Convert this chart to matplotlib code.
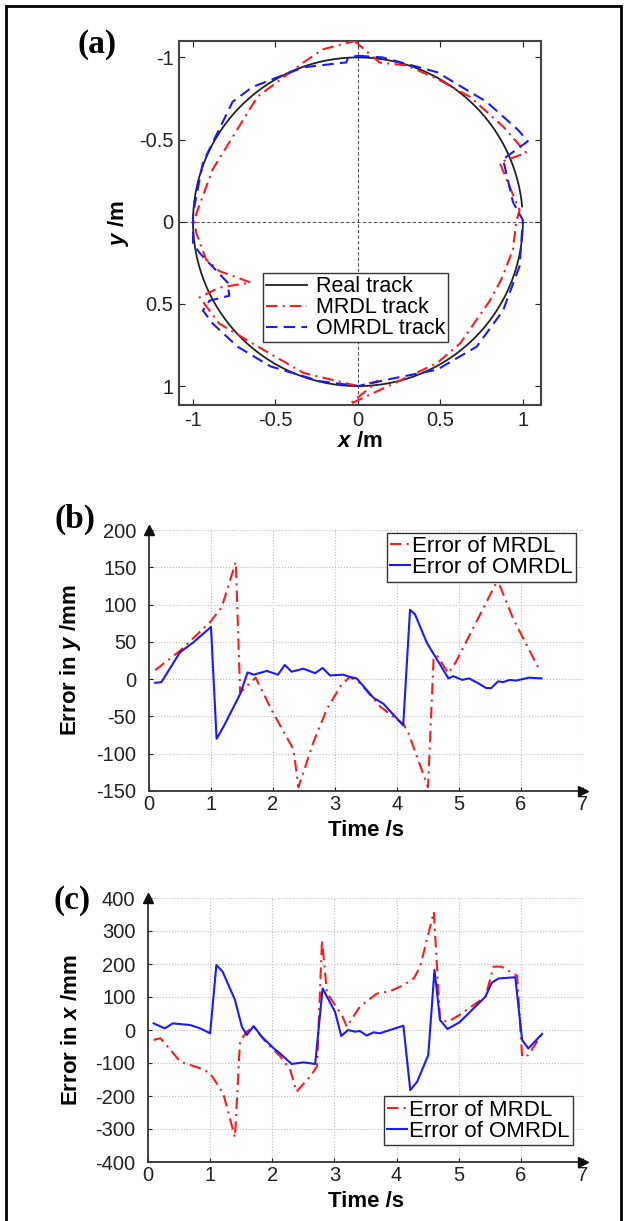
import matplotlib
matplotlib.use("Agg")
import matplotlib.pyplot as plt
from matplotlib.patches import Arc, Rectangle
from matplotlib.lines import Line2D

plt.rcParams['font.family'] = ['Liberation Sans', 'DejaVu Sans']
plt.rcParams['mathtext.fontset'] = 'custom'
plt.rcParams['mathtext.it'] = 'Liberation Sans:italic:bold'
plt.rcParams['mathtext.rm'] = 'Liberation Sans:bold'
plt.rcParams['axes.unicode_minus'] = False

# ---------------- data: panel (a) tracks ----------------
real_center = (0.0, 0.0)
real_radius = 1.0

mrdl_x = [-0.02, 0.06, 0.13, 0.30, 0.48, 0.68, 0.88, 1.02, 0.86, 0.90, 0.98, 0.96, 0.94, 0.87,
          0.80, 0.62, 0.48, -0.05, 0.12, 0.00, -0.33, -0.64, -0.84, -0.96, -0.84, -0.65, -0.84,
          -0.92, -0.98, -0.99, -0.98, -0.88, -0.61, -0.33, -0.21, -0.02]
mrdl_y = [-1.10, -1.03, -0.97, -0.95, -0.87, -0.76, -0.58, -0.42, -0.36, -0.26, -0.07, 0.00, 0.17, 0.35,
          0.48, 0.74, 0.86, 1.11, 0.97, 1.00, 0.92, 0.74, 0.62, 0.46, 0.40, 0.37, 0.30,
          0.23, 0.07, 0.00, -0.05, -0.32, -0.76, -0.97, -1.05, -1.10]

omrdl_x = [0.00, 0.15, 0.48, 0.78, 0.97, 1.03, 0.88, 0.91, 0.94, 1.00, 0.98, 0.88, 0.72, 0.48,
           0.18, 0.00, -0.23, -0.53, -0.73, -0.88, -0.94, -0.90, -0.78, -0.79, -0.96, -1.00,
           -1.00, -1.00, -0.94, -0.76, -0.64, -0.33, -0.07, -0.06, 0.00]
omrdl_y = [-1.01, -1.00, -0.91, -0.73, -0.56, -0.49, -0.38, -0.25, -0.12, -0.01, 0.27, 0.54, 0.76, 0.90,
           0.96, 1.00, 0.97, 0.88, 0.76, 0.62, 0.54, 0.48, 0.45, 0.37, 0.19, 0.13,
           0.00, -0.05, -0.36, -0.73, -0.82, -0.94, -0.97, -1.00, -1.01]

# ---------------- data: panel (b) error in y ----------------
tb_mrdl = [0.10, 0.50, 0.98, 1.17, 1.40, 1.47, 1.72, 2.00, 2.33, 2.41, 2.65, 2.87, 3.10, 3.24, 3.40,
           3.73, 4.10, 4.18, 4.50, 4.59, 4.64, 4.83, 4.95, 5.60, 5.66, 5.88, 6.30]
eb_mrdl = [12, 38, 76, 96, 157, -18, 2, -45, -94, -145, -85, -40, -8, 3, -5,
           -37, -60, -71, -145, 27, 32, 8, 23, 129, 125, 80, 12]

tb_omrdl = [0.10, 0.20, 0.50, 0.71, 1.00, 1.09, 1.20, 1.47, 1.59, 1.69, 1.90, 2.08, 2.19, 2.30, 2.49,
            2.68, 2.80, 2.92, 3.13, 3.24, 3.35, 3.62, 3.78, 4.10, 4.21, 4.29, 4.48, 4.64, 4.83,
            4.91, 5.05, 5.16, 5.30, 5.44, 5.52, 5.63, 5.71, 5.82, 5.92, 6.13, 6.33]
eb_omrdl = [-5, -4, 36, 49, 70, -80, -64, -20, 9, 6, 11, 6, 19, 10, 14,
            8, 15, 5, 6, 3, 1, -25, -33, -62, 93, 87, 49, 27, 1,
            4, -1, 1, -5, -12, -12, -3, -4, -1, -2, 2, 1]

# ---------------- data: panel (c) error in x ----------------
tc_mrdl = [0.09, 0.20, 0.36, 0.52, 0.84, 1.00, 1.21, 1.40, 1.48, 1.59, 1.70, 1.91, 2.13, 2.29, 2.39,
           2.61, 2.72, 2.80, 2.88, 3.12, 3.20, 3.41, 3.68, 3.90, 4.11, 4.28, 4.38, 4.60, 4.70,
           4.83, 5.01, 5.43, 5.56, 5.69, 5.94, 6.02, 6.12, 6.34]
ec_mrdl = [-30, -25, -60, -96, -116, -131, -192, -325, -35, -5, 10, -40, -80, -121, -187,
           -141, -110, 273, 112, 45, 10, 71, 110, 118, 136, 157, 192, 358, 30,
           25, 45, 101, 192, 192, 164, -81, -76, -12]

tc_omrdl = [0.09, 0.27, 0.40, 0.68, 0.84, 1.00, 1.10, 1.20, 1.40, 1.51, 1.59, 1.70, 1.83, 2.02, 2.13,
            2.31, 2.50, 2.69, 2.81, 3.01, 3.11, 3.22, 3.33, 3.41, 3.52, 3.63, 3.73, 4.11, 4.22,
            4.33, 4.51, 4.61, 4.70, 4.82, 5.01, 5.43, 5.53, 5.64, 5.91, 6.02, 6.12, 6.34]
ec_omrdl = [20, 5, 20, 15, 5, -10, 197, 177, 91, 10, -15, 12, -20, -55, -72,
            -103, -98, -103, 126, 55, -18, 0, -5, -3, -17, -7, -10, 13, -182,
            -157, -76, 182, 30, 3, 23, 101, 143, 156, 160, -30, -56, -12]

ticks_a = [-1, -0.5, 0, 0.5, 1]
ticklabels_a = ['-1', '-0.5', '0', '0.5', '1']
ticks_b = [-150, -100, -50, 0, 50, 100, 150, 200]
ticks_c = [-400, -300, -200, -100, 0, 100, 200, 300, 400]
ticks_t = [0, 1, 2, 3, 4, 5, 6, 7]

RED = '#ff1a1a'
BLUE = '#1a1aff'
LW = 1.5
DASHDOT = (0, (5.5, 2.5, 1, 2.5))
DASHED = (0, (5.5, 3))
TICK_FS = 14.5
LABEL_FS = 16

W, H = 627, 1221
fig = plt.figure(figsize=(W / 100, H / 100), dpi=100)

def frac(x0, y0, x1, y1):
    return [x0 / W, 1 - y1 / H, (x1 - x0) / W, (y1 - y0) / H]

# ---------------- panel (a) ----------------
axA = fig.add_axes(frac(179, 41, 541, 405))
arc = Arc(real_center, 2 * real_radius, 2 * real_radius, theta1=0, theta2=355,
          color='#222222', lw=1.3, zorder=3)
axA.add_patch(arc)
axA.plot(mrdl_x, mrdl_y, color=RED, lw=LW, ls=DASHDOT, zorder=4)
axA.plot(omrdl_x, omrdl_y, color=BLUE, lw=LW, ls=DASHED, zorder=5)
axA.axhline(0, color='#555555', lw=0.8, ls=(0, (3, 2)), zorder=1)
axA.axvline(0, color='#555555', lw=0.8, ls=(0, (3, 2)), zorder=1)
axA.set_xlim(-1.085, 1.11)
axA.set_ylim(1.115, -1.10)
axA.set_xticks(ticks_a)
axA.set_xticklabels(ticklabels_a)
axA.set_yticks(ticks_a)
axA.set_yticklabels(ticklabels_a)
axA.tick_params(direction='in', length=4, width=0.8, top=True, right=True,
                labelsize=TICK_FS, colors='#222222', pad=4)
for s in axA.spines.values():
    s.set_color('#444444')
    s.set_linewidth(1.5)
axA.set_xlabel(r'$x$ /m', fontsize=LABEL_FS, fontweight='bold', labelpad=1)
axA.set_ylabel(r'$y$ /m', fontsize=LABEL_FS, fontweight='bold', labelpad=6)
hA = [Line2D([], [], color='#222222', lw=1.3),
      Line2D([], [], color=RED, lw=LW, ls=DASHDOT),
      Line2D([], [], color=BLUE, lw=LW, ls=DASHED)]
legA = axA.legend(hA, ['Real track', 'MRDL track', 'OMRDL track'], loc='upper left',
                  bbox_to_anchor=(0.232, 0.363), borderaxespad=0, fontsize=15.5,
                  handlelength=1.9, handletextpad=0.4, labelspacing=0.0, borderpad=0.15,
                  fancybox=False, framealpha=1, edgecolor='#333333')
legA.get_frame().set_linewidth(1.0)

# ---------------- panels (b), (c) ----------------
def err_panel(ax, t1, e1, t2, e2, ylim, yticks, ylabel, legloc, anchor):
    ax.plot(t1, e1, color=RED, lw=LW, ls=DASHDOT, label='Error of MRDL', zorder=3)
    ax.plot(t2, e2, color=BLUE, lw=LW, ls='-', label='Error of OMRDL', zorder=4)
    ax.set_xlim(0, 7)
    ax.set_ylim(*ylim)
    ax.set_xticks(ticks_t)
    ax.set_yticks(yticks)
    ax.set_yticklabels([str(v) for v in yticks])
    ax.grid(True, ls=':', color='#bbbbbb', lw=0.8)
    ax.spines['top'].set_visible(False)
    ax.spines['right'].set_visible(False)
    for s in ('left', 'bottom'):
        ax.spines[s].set_color('#333333')
        ax.spines[s].set_linewidth(1.3)
    ax.tick_params(direction='in', length=3, width=0.8, labelsize=TICK_FS,
                   colors='#222222', pad=4)
    ax.tick_params(axis='y', pad=9)
    ax.tick_params(axis='x', pad=3)
    ax.plot([0], [1.0], marker='^', color='#111111', markersize=7,
            transform=ax.transAxes, clip_on=False, zorder=6)
    ax.plot([1.0], [0], marker='>', color='#111111', markersize=7,
            transform=ax.transAxes, clip_on=False, zorder=6)
    ax.set_xlabel('Time /s', fontsize=LABEL_FS, fontweight='bold', labelpad=4)
    ax.set_ylabel(ylabel, fontsize=LABEL_FS, fontweight='bold')
    ax.yaxis.set_label_coords(-66 / 434, 0.5)
    leg = ax.legend(loc=legloc, bbox_to_anchor=anchor, borderaxespad=0, fontsize=16,
                    handlelength=0.9, handletextpad=0.1, labelspacing=0.0, borderpad=0.15,
                    fancybox=False, framealpha=1, edgecolor='#333333')
    leg.get_frame().set_linewidth(1.0)

axB = fig.add_axes(frac(149, 530, 583, 791))
err_panel(axB, tb_mrdl, eb_mrdl, tb_omrdl, eb_omrdl, (-150, 200), ticks_b,
          r'Error in $y$ /mm', 'upper right', (0.984, 0.989))

axC = fig.add_axes(frac(148, 898, 583, 1162))
err_panel(axC, tc_mrdl, ec_mrdl, tc_omrdl, ec_omrdl, (-400, 400), ticks_c,
          r'Error in $x$ /mm', 'lower right', (0.977, 0.064))

# panel letters
for txt, x, y in [('(a)', 97, 44), ('(b)', 75, 519), ('(c)', 72, 900)]:
    fig.text(x / W, 1 - y / H, txt, family='Liberation Serif', fontweight='bold',
             fontsize=24, ha='center', va='center')

# outer frame
fig.patches.append(Rectangle((6 / W, -0.01), (621 - 6) / W, 1 - 6 / H + 0.01,
                             transform=fig.transFigure, fill=False, lw=2, ec='black'))

fig.savefig('out.png', dpi=100)
